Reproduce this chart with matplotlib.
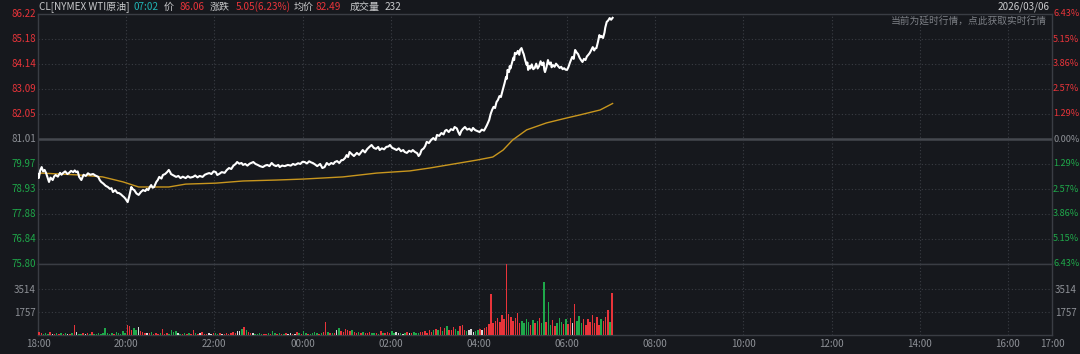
import numpy as np
import matplotlib.pyplot as plt

plt.rcParams['font.family'] = ['Noto Sans CJK SC', 'DejaVu Sans']

prev_close = 81.01
last_price = 86.06
avg_price = 82.49
change = 5.05
change_pct = 6.23
last_vol = 232

# minutes since 18:00 and price of the white line
t_min = [0, 1, 3, 5, 7, 9, 11, 13, 15, 17, 20, 22, 24, 27, 30, 32, 34, 37, 40, 42,
         45, 48, 50, 52, 54, 56, 59, 62, 65, 68, 71, 75, 78, 82, 84, 86, 89, 92, 95, 98,
         100, 102, 105, 108, 110, 113, 115, 117, 119, 122, 124, 127, 129, 131, 134, 137, 140, 143, 146, 148,
         150, 152, 154, 156, 158, 161, 163, 165, 168, 170, 173, 176, 178, 180, 181, 184, 188, 191, 194, 197,
         201, 204, 207, 211, 214, 217, 220, 224, 227, 230, 233, 236, 239, 242, 244, 247, 250, 254, 257, 260,
         263, 266, 269, 271, 274, 277, 279, 282, 285, 288, 290, 293, 296, 299, 302, 306, 309, 312, 315, 318,
         321, 324, 327, 329, 332, 336, 340, 344, 347, 350, 354, 357, 360, 363, 366, 369, 372, 374, 377, 380,
         384, 387, 390, 393, 396, 399, 402, 404, 407, 410, 413, 415, 418, 420, 422, 424, 427, 430, 434, 437,
         440, 442, 445, 448, 451, 454, 457, 460, 463, 465, 468, 471, 474, 477, 479, 482, 485, 488, 491, 494,
         497, 499, 502, 505, 508, 510, 513, 516, 518, 520, 522, 525, 527, 529, 532, 535, 538, 541, 543, 546,
         549, 552, 554, 556, 559, 562, 565, 567, 570, 572, 574, 576, 578, 581, 584, 587, 590, 592, 595, 598,
         601, 604, 607, 609, 611, 614, 616, 618, 620, 622, 624, 626, 628, 630, 632, 634, 635, 637, 638, 639,
         641, 642, 643, 645, 647, 648, 649, 651, 653, 655, 656, 658, 660, 661, 663, 665, 666, 667, 669, 670,
         672, 674, 676, 678, 680, 682, 684, 686, 688, 689, 690, 692, 694, 696, 698, 699, 701, 703, 705, 707,
         710, 712, 714, 716, 718, 720, 722, 724, 727, 729, 731, 733, 735, 737, 739, 741, 743, 745, 747, 749,
         751, 753, 755, 757, 758, 760, 762, 764, 766, 767, 769, 771, 772, 774, 776, 778, 780, 782]
price = [79.55, 79.38, 79.70, 79.84, 79.66, 79.72, 79.59, 79.40, 79.22, 79.40, 79.30, 79.45, 79.51, 79.44, 79.60, 79.52, 79.59, 79.66, 79.55, 79.59,
         79.68, 79.63, 79.70, 79.63, 79.66, 79.43, 79.30, 79.52, 79.47, 79.58, 79.52, 79.55, 79.49, 79.43, 79.30, 79.22, 79.15, 79.06, 79.01, 78.93,
         78.96, 78.80, 78.88, 78.76, 78.76, 78.70, 78.64, 78.59, 78.52, 78.38, 78.60, 79.01, 78.92, 78.88, 78.74, 78.68, 78.80, 78.88, 78.84, 78.93,
         78.88, 79.00, 79.09, 78.98, 79.01, 79.22, 79.30, 79.43, 79.36, 79.51, 79.55, 79.64, 79.72, 79.62, 79.55, 79.50, 79.43, 79.47, 79.38, 79.44,
         79.38, 79.46, 79.40, 79.43, 79.49, 79.41, 79.47, 79.43, 79.52, 79.56, 79.59, 79.55, 79.66, 79.63, 79.51, 79.56, 79.63, 79.60, 79.72, 79.80,
         79.76, 79.90, 79.97, 80.05, 79.98, 80.01, 79.93, 79.97, 79.90, 79.98, 80.01, 80.05, 79.97, 79.93, 79.88, 79.84, 79.90, 79.93, 79.88, 80.01,
         79.92, 79.88, 79.93, 79.84, 79.90, 79.88, 79.93, 79.90, 79.97, 79.93, 80.00, 79.97, 80.06, 80.05, 79.99, 80.08, 80.03, 80.01, 79.95, 79.88,
         79.97, 79.80, 79.84, 80.01, 79.93, 80.01, 79.97, 80.05, 80.09, 80.01, 80.13, 80.13, 80.22, 80.34, 80.26, 80.47, 80.38, 80.30, 80.43, 80.35,
         80.47, 80.55, 80.45, 80.59, 80.68, 80.76, 80.64, 80.60, 80.68, 80.55, 80.62, 80.58, 80.68, 80.70, 80.76, 80.64, 80.60, 80.55, 80.62, 80.50,
         80.55, 80.47, 80.43, 80.52, 80.48, 80.55, 80.47, 80.42, 80.30, 80.38, 80.55, 80.62, 80.72, 80.89, 80.84, 80.97, 81.05, 80.97, 81.18, 81.14,
         81.26, 81.20, 81.35, 81.39, 81.30, 81.42, 81.38, 81.51, 81.45, 81.30, 81.18, 81.34, 81.42, 81.51, 81.40, 81.44, 81.35, 81.47, 81.38, 81.34,
         81.30, 81.40, 81.36, 81.47, 81.59, 81.80, 82.05, 82.22, 82.35, 82.30, 82.55, 82.64, 82.80, 82.76, 83.00, 83.22, 83.34, 83.60, 83.52, 83.89,
         83.80, 84.05, 83.95, 84.18, 84.40, 84.30, 84.60, 84.55, 84.68, 84.52, 84.72, 84.80, 84.62, 84.55, 84.30, 84.10, 84.20, 83.89, 84.05, 83.95,
         84.12, 83.92, 83.97, 84.15, 83.95, 84.05, 84.25, 84.09, 84.20, 83.90, 83.80, 84.00, 84.30, 84.12, 84.20, 84.00, 84.09, 84.02, 84.15, 84.08,
         83.97, 84.02, 83.92, 83.96, 83.90, 83.89, 84.02, 84.20, 84.43, 84.35, 84.72, 84.62, 84.55, 84.40, 84.30, 84.22, 84.35, 84.30, 84.45, 84.52,
         84.60, 84.72, 84.84, 84.70, 84.78, 84.80, 85.05, 85.34, 85.25, 85.30, 85.22, 85.45, 85.65, 85.89, 85.95, 86.05, 85.98, 86.06]

# average price line
avg_t = [0, 4, 56, 88, 116, 129, 137, 161, 178, 201, 242, 279, 325, 361, 415, 461, 506, 533,
         597, 619, 633, 646, 665, 692, 720, 737, 765, 782]
avg_p = [79.51, 79.59, 79.51, 79.43, 79.22, 79.09, 79.01, 79.01, 79.01, 79.13, 79.17, 79.26, 79.30, 79.34,
         79.43, 79.59, 79.68, 79.80, 80.13, 80.26, 80.55, 80.97, 81.39, 81.68, 81.89, 82.01, 82.22, 82.49]

# volume, 3-minute bins from 18:00
vol = [250, 120, 90, 150, 80, 200, 110, 70, 130, 90, 160, 80, 120, 100, 70, 140, 760, 220, 110, 90,
       150, 80, 120, 90, 200, 70, 110, 160, 90, 130, 530, 180, 100, 140, 90, 250, 120, 80, 300, 160,
       780, 650, 420, 560, 380, 600, 300, 220, 180, 150, 120, 200, 90, 140, 110, 180, 470, 100, 130, 90,
       420, 200, 330, 150, 110, 90, 130, 80, 160, 100, 360, 140, 90, 120, 200, 80, 110, 150, 90, 130,
       120, 90, 150, 80, 110, 140, 90, 130, 200, 160, 280, 340, 450, 620, 380, 250, 140, 180, 110, 90,
       130, 80, 110, 90, 150, 100, 320, 120, 80, 140, 90, 110, 160, 80, 120, 100, 90, 250, 130, 80,
       280, 150, 110, 90, 140, 200, 120, 90, 160, 260, 1000, 240, 180, 150, 120, 380, 520, 300, 210, 460,
       350, 280, 400, 220, 180, 260, 150, 200, 130, 170, 240, 120, 190, 150, 110, 280, 160, 130, 200, 140,
       300, 160, 220, 130, 190, 110, 170, 240, 140, 120, 230, 180, 150, 260, 200, 310, 180, 420, 260, 390,
       450, 380, 620, 300, 520, 700, 410, 360, 580, 480, 300, 650, 750, 420, 280, 360, 480, 250, 320, 410,
       430, 380, 520, 600, 850, 3100, 900, 1100, 1300, 1000, 1500, 1250, 5400, 1600, 1400, 1100, 1300, 1700, 950, 1100,
       900, 1250, 1000, 800, 1150, 950, 1100, 1300, 900, 4050, 1000, 2500, 800, 1150, 700, 900, 1300, 1000, 850, 1200,
       850, 1300, 950, 2370, 1100, 1450, 900, 1250, 800, 1250, 1000, 1500, 900, 1350, 750, 1200, 1100, 1400, 1900, 1000,
       3200]
vol_ticks = [1757, 3514]
vol_top = 5424

hour_labels = ['18:00', '20:00', '22:00', '00:00', '02:00', '04:00', '06:00', '08:00',
               '10:00', '12:00', '14:00', '16:00', '17:00']
hour_pos = [0, 120, 240, 360, 480, 600, 720, 840, 960, 1080, 1200, 1320, 1380]

BG = '#16181d'
GRID = '#3a3d44'
RED = '#e8343a'
GREEN = '#1fa84a'
GREY = '#8d9096'
FS = 7

fig = plt.figure(figsize=(10.8, 3.54), dpi=100, facecolor=BG)
L, W = 38 / 1080, (1052 - 38) / 1080
axp = fig.add_axes([L, 1 - 264 / 354, W, 250 / 354], facecolor=BG)
axv = fig.add_axes([L, 1 - 335 / 354, W, 71 / 354], facecolor=BG)

step = (86.22 - prev_close) / 5
levels = [prev_close + k * step for k in range(-5, 6)]

# price panel
for lv in levels:
    if abs(lv - prev_close) < 1e-6:
        axp.axhline(lv, color='#45484f', lw=1.8, zorder=1)
    else:
        axp.axhline(lv, color=GRID, lw=0.8, ls=(0, (1, 2)), zorder=1)
for hp in hour_pos[1:-1]:
    axp.axvline(hp, color=GRID, lw=0.8, ls=(0, (1, 2)), zorder=1)
    axv.axvline(hp, color=GRID, lw=0.8, ls=(0, (1, 2)), zorder=1)

axp.plot(avg_t, avg_p, color='#c8961e', lw=1.0, zorder=3)
axp.plot(t_min, price, color='white', lw=1.5, zorder=4)
axp.set_xlim(0, 1380)
axp.set_ylim(levels[0], levels[-1])
axp.set_xticks([])
axp.set_yticks([])

for lv in levels:
    pct = (lv - prev_close) / prev_close * 100
    if abs(lv - prev_close) < 1e-6:
        c = GREY
    elif lv > prev_close:
        c = RED
    else:
        c = GREEN
    axp.text(-0.002, lv, f'{lv:.2f}', transform=axp.get_yaxis_transform(),
             ha='right', va='center', fontsize=FS, color=c)
    axp.text(1.001, lv, f'{abs(pct):.2f}%', transform=axp.get_yaxis_transform(),
             ha='left', va='center', fontsize=6.6, color=c)

for ax in (axp, axv):
    for s in ax.spines.values():
        s.set_color(GRID)
        s.set_linewidth(1.0)

# volume panel
t_interp = np.array(t_min, dtype=float)
p_interp = np.array(price, dtype=float)
colors = []
for i in range(len(vol)):
    t0, t1 = 3 * i, min(3 * i + 3, 782)
    d = np.interp(t1, t_interp, p_interp) - np.interp(t0, t_interp, p_interp)
    if d > 0.01:
        colors.append(RED)
    elif d < -0.01:
        colors.append(GREEN)
    else:
        colors.append('#d8d8d8')
bin_x = [3 * i + 1.5 for i in range(len(vol))]
axv.bar(bin_x, vol, width=2.0, color=colors, linewidth=0, zorder=3)
for vt in vol_ticks:
    axv.axhline(vt, color=GRID, lw=0.8, ls=(0, (1, 2)), zorder=1)
axv.set_xlim(0, 1380)
axv.set_ylim(0, vol_top)
axv.set_yticks(vol_ticks)
axv.set_yticklabels([str(v) for v in vol_ticks])
axv.tick_params(axis='y', length=0, labelsize=FS, colors=GREY, pad=2,
                labelright=True, right=False)
axv.set_xticks(hour_pos)
axv.set_xticklabels(hour_labels)
axv.tick_params(axis='x', length=0, labelsize=FS, colors=GREY, pad=3)

# header
def ftext(x, y, s, c, size=7.2, ha='left'):
    fig.text(x / 1080, 1 - y / 354, s, color=c, fontsize=size, ha=ha, va='center')

ftext(39, 7, 'CL[NYMEX WTI原油]', '#c9cacc')
ftext(133, 7, '07:02', '#20b3b3')
ftext(164, 7, '价', '#c9cacc')
ftext(179, 7, f'{last_price:.2f}', RED)
ftext(210, 7, '涨跌', '#c9cacc')
ftext(236, 7, f'{change:.2f}({change_pct:.2f}%)', RED)
ftext(294, 7, '均价', '#c9cacc')
ftext(316, 7, f'{avg_price:.2f}', RED)
ftext(350, 7, '成交量', '#c9cacc')
ftext(385, 7, str(last_vol), '#c9cacc')
ftext(1050, 7, '2026/03/06', '#c9cacc', ha='right')
ftext(1047, 21, '当前为延时行情，点此获取实时行情', '#7d8086', size=7, ha='right')

fig.savefig('out.png', dpi=100, facecolor=BG)
